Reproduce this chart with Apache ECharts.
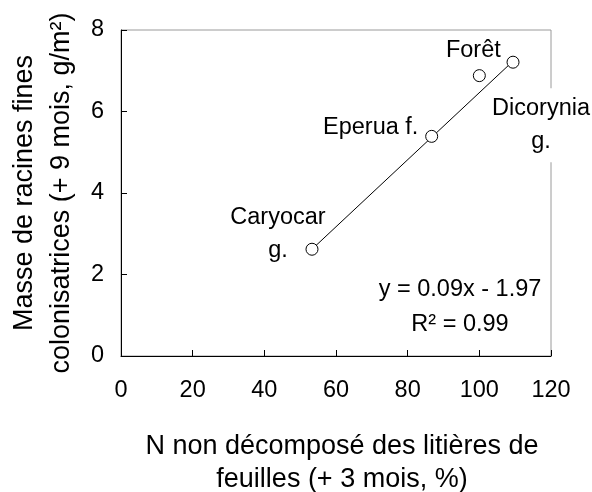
<!DOCTYPE html>
<html>
<head>
<meta charset="utf-8">
<script src="https://cdn.jsdelivr.net/npm/echarts@6/dist/echarts.min.js"></script>
<style>
html,body{margin:0;padding:0;background:#fff;}
#chart{width:592px;height:492px;}
</style>
</head>
<body>
<div id="chart"></div>
<script>
// ---- data ----
const siteNames = ['Caryocar\ng.', 'Eperua f.', 'Forêt', 'Dicorynia\ng.'];
const nValues = [53.3, 86.7, 100, 109.4];      // N non décomposé (%)
const rootMass = [2.62, 5.39, 6.88, 7.21];     // masse de racines (g/m²)
const trendX = [53.3, 110.3];
const trendY = [2.62, 7.31];
const xTicks = [0, 20, 40, 60, 80, 100, 120];
const yTicks = [0, 2, 4, 6, 8];
const equationLines = ['y = 0.09x - 1.97', 'R² = 0.99'];
const xTitle = 'N non décomposé des litières de\nfeuilles (+ 3 mois, %)';
const yTitle = 'Masse de racines fines\ncolonisatrices (+ 9 mois, g/m²)';

// ---- layout / styling ----
const FONT = '"Liberation Sans", Arial, sans-serif';
const FS = 23.5;
const TFS = 27;
const labelLayout = {
  'Caryocar\ng.': { offset: [-34, -15], bg: null },
  'Eperua f.': { offset: [-61, -9], bg: null },
  'Forêt': { offset: [-6, -25], bg: null },
  'Dicorynia\ng.': { offset: [28, 63], bg: '#fff' }
};

const chart = echarts.init(document.getElementById('chart'), null, { renderer: 'canvas' });

const scatterData = nValues.map((x, i) => {
  const lay = labelLayout[siteNames[i]];
  const lbl = { offset: lay.offset };
  if (lay.bg) { lbl.backgroundColor = lay.bg; lbl.padding = [4, 2, 4, 2]; }
  return { name: siteNames[i], value: [x, rootMass[i]], label: lbl };
});

const option = {
  animation: false,
  backgroundColor: '#fff',
  textStyle: { fontFamily: FONT },
  grid: {
    left: 121, right: 41, top: 30, bottom: 136,
    outerBoundsMode: 'none',
    containLabel: false,
    show: true, borderColor: '#9a9a9a', borderWidth: 1, backgroundColor: 'transparent'
  },
  xAxis: {
    type: 'value',
    min: xTicks[0], max: xTicks[xTicks.length - 1],
    interval: xTicks[1] - xTicks[0],
    name: xTitle,
    nameLocation: 'middle',
    nameGap: 74,
    nameTextStyle: { fontSize: TFS, color: '#000', fontFamily: FONT, lineHeight: 33, padding: [0, 0, 0, 12] },
    axisLine: { show: true, lineStyle: { color: '#000', width: 1 } },
    axisTick: { show: true, inside: true, length: 6, lineStyle: { color: '#000' } },
    axisLabel: { fontSize: FS, color: '#000', fontFamily: FONT, margin: 23 },
    splitLine: { show: false }
  },
  yAxis: {
    type: 'value',
    min: yTicks[0], max: yTicks[yTicks.length - 1],
    interval: yTicks[1] - yTicks[0],
    name: yTitle,
    nameLocation: 'middle',
    nameRotate: 90,
    nameGap: 40,
    nameTextStyle: { fontSize: TFS, color: '#000', fontFamily: FONT, lineHeight: 37 },
    axisLine: { show: true, lineStyle: { color: '#000', width: 1 } },
    axisTick: { show: true, inside: true, length: 6, lineStyle: { color: '#000' } },
    axisLabel: { fontSize: FS, color: '#000', fontFamily: FONT, margin: 17 },
    splitLine: { show: false }
  },
  series: [
    {
      type: 'line',
      data: trendX.map((x, i) => [x, trendY[i]]),
      symbol: 'none',
      lineStyle: { color: '#000', width: 1 },
      z: 2,
      silent: true
    },
    {
      type: 'scatter',
      data: scatterData,
      symbol: 'circle',
      symbolSize: 12,
      itemStyle: { color: '#fff', borderColor: '#000', borderWidth: 1, opacity: 1 },
      z: 3,
      label: {
        show: true,
        position: 'inside',
        formatter: p => p.name,
        color: '#000',
        fontSize: FS,
        fontFamily: FONT,
        lineHeight: 33,
        align: 'center',
        verticalAlign: 'middle'
      }
    }
  ],
  graphic: [
    {
      type: 'text', x: 460, y: 290, z: 10,
      style: { text: equationLines[0], fill: '#000', font: FS + 'px ' + FONT, align: 'center', verticalAlign: 'middle' }
    },
    {
      type: 'text', x: 460, y: 325, z: 10,
      style: { text: equationLines[1], fill: '#000', font: FS + 'px ' + FONT, align: 'center', verticalAlign: 'middle' }
    }
  ]
};

chart.setOption(option);
</script>
</body>
</html>
